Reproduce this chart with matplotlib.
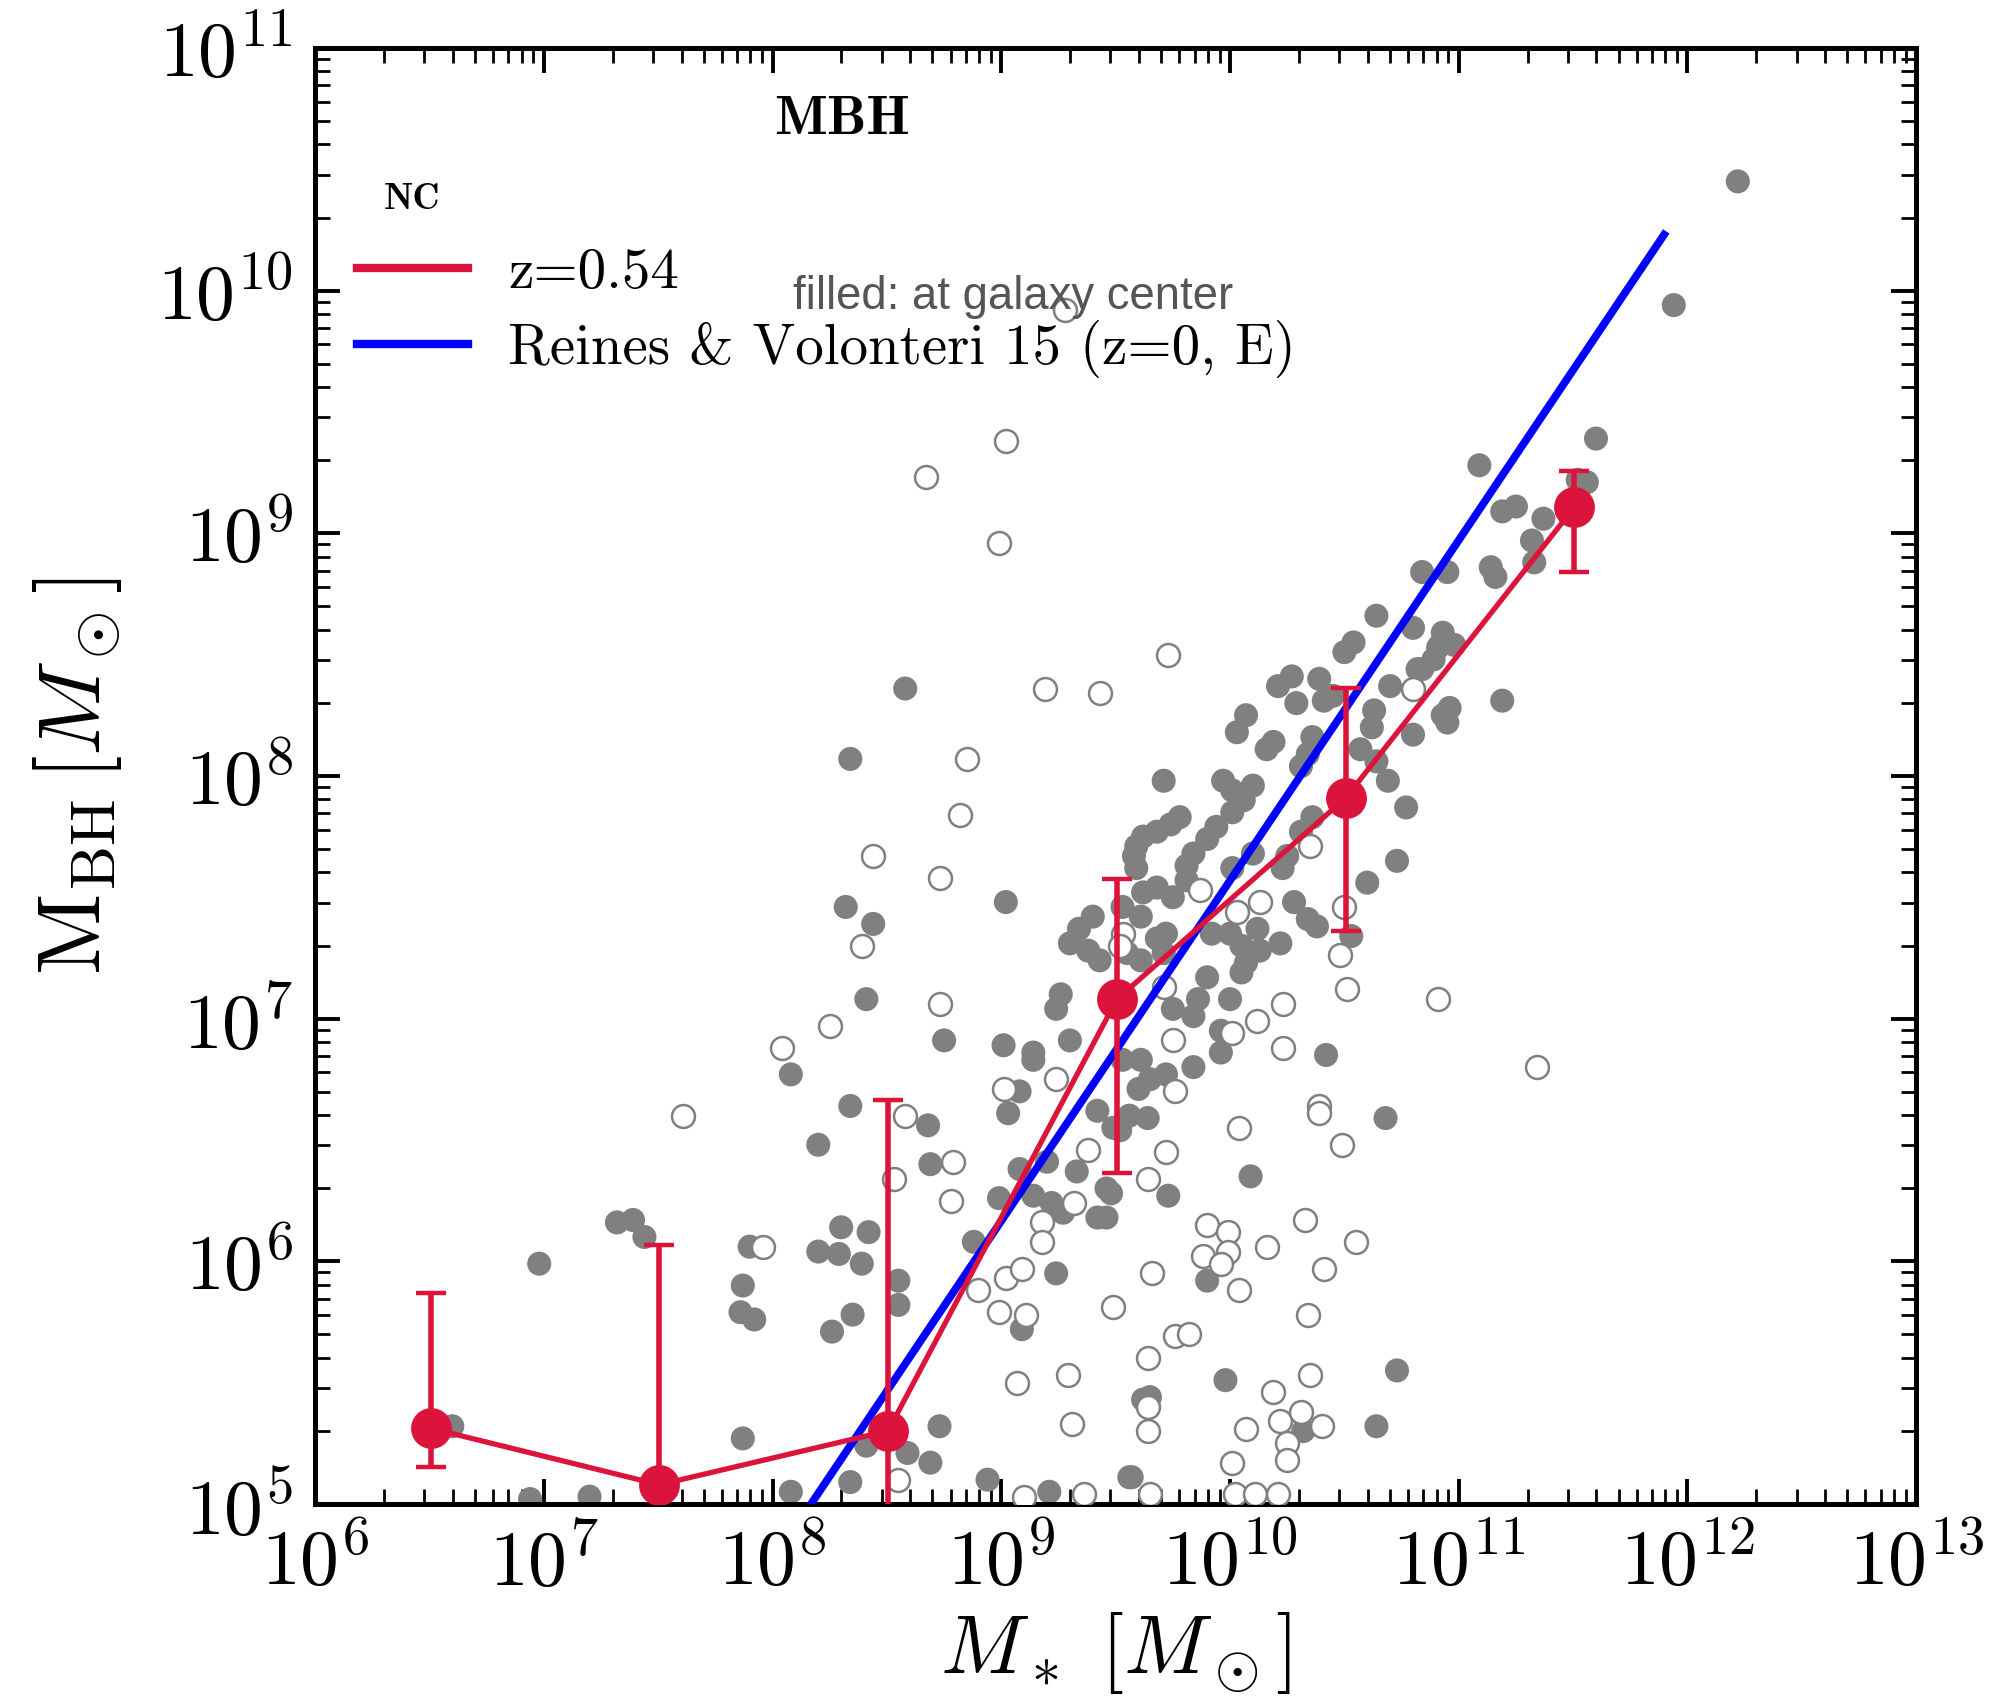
import matplotlib
matplotlib.use('Agg')
import matplotlib.pyplot as plt
from matplotlib.lines import Line2D
from matplotlib.ticker import LogLocator
import numpy as np

plt.rcParams['font.family'] = 'serif'
plt.rcParams['font.serif'] = ['cmr10']
plt.rcParams['mathtext.fontset'] = 'cm'
plt.rcParams['axes.formatter.use_mathtext'] = True
plt.rcParams['axes.unicode_minus'] = False

# MBH binned median (red), in Msun
red_mstar = [3.2e6, 3.2e7, 3.2e8, 3.2e9, 3.2e10, 3.2e11]
red_mbh = [2.05e5, 1.2e5, 2.0e5, 1.2e7, 8.1e7, 1.28e9]
red_hi = [7.4e5, 1.17e6, 4.6e6, 3.75e7, 2.3e8, 1.8e9]
red_lo = [1.42e5, 1e3, 1e3, 2.3e6, 2.3e7, 6.9e8]

# Reines & Volonteri 15 (ellipticals) end points
rv15_mstar = [1.0e8, 7.9e11]
rv15_mbh = [5.8e4, 1.7e10]

# individual BHs, log10(M*), log10(MBH)
filled = [
    (12.22, 10.45), (11.94, 9.94), (11.60, 9.39), (11.09, 9.28), (11.52, 9.22), (11.56, 9.21),
    (11.19, 9.09), (11.25, 9.11), (11.37, 9.06), (11.32, 8.97), (11.33, 8.88), (10.84, 8.84),
    (10.95, 8.84), (11.14, 8.86), (11.16, 8.82), (10.80, 8.61), (10.93, 8.59), (10.98, 8.54),
    (10.91, 8.53), (10.84, 8.44), (11.19, 8.31), (10.96, 8.28), (10.95, 8.22), (10.80, 8.17),
    (10.77, 7.87), (10.50, 8.51), (10.92, 8.54), (10.21, 8.37), (10.27, 8.41), (10.29, 8.30),
    (10.39, 8.40), (10.41, 8.31), (10.45, 8.33), (10.70, 8.37), (10.82, 8.44), (10.89, 8.48),
    (10.63, 8.27), (10.62, 8.20), (10.93, 8.25), (10.07, 8.25), (10.03, 8.18), (10.19, 8.14),
    (10.16, 8.11), (10.36, 8.16), (10.34, 8.09), (10.31, 8.04), (10.57, 8.11), (10.64, 8.06),
    (10.69, 7.98), (9.71, 7.98), (9.97, 7.98), (10.01, 7.94), (10.10, 7.96), (10.06, 7.90),
    (10.01, 7.85), (9.78, 7.83), (9.74, 7.80), (9.68, 7.77), (9.62, 7.75), (9.59, 7.71),
    (9.58, 7.67), (9.59, 7.62), (9.94, 7.79), (9.90, 7.74), (9.84, 7.68), (9.81, 7.63),
    (10.01, 7.62), (10.10, 7.68), (10.36, 7.83), (10.31, 7.77), (10.25, 7.67), (10.23, 7.62),
    (10.73, 7.65), (10.60, 7.56), (9.81, 7.57), (9.75, 7.50), (9.68, 7.54), (9.62, 7.52),
    (9.61, 7.42), (9.02, 7.48), (9.40, 7.42), (9.34, 7.37), (9.30, 7.31), (9.38, 7.28),
    (9.43, 7.24), (9.53, 7.46), (9.55, 7.27), (9.61, 7.24), (10.28, 7.48), (10.34, 7.41),
    (10.38, 7.38), (9.92, 7.35), (10.00, 7.35), (10.05, 7.30), (10.12, 7.37), (10.13, 7.28),
    (10.22, 7.31), (9.72, 7.35), (9.68, 7.33), (9.71, 7.27), (10.53, 7.34), (10.07, 7.23),
    (10.05, 7.19), (9.90, 7.17), (9.86, 7.08), (9.75, 7.04), (9.84, 7.01), (9.96, 6.95),
    (10.00, 7.08), (9.26, 7.10), (9.24, 7.04), (9.30, 6.91), (9.14, 6.86), (9.01, 6.89),
    (10.42, 6.85), (9.96, 6.86), (8.08, 6.77), (8.34, 6.64), (8.20, 6.48), (8.68, 6.56),
    (8.69, 6.40), (9.08, 6.70), (9.03, 6.61), (9.14, 6.83), (9.53, 6.83), (9.42, 6.62),
    (9.49, 6.55), (9.56, 6.60), (9.08, 6.38), (9.20, 6.41), (8.99, 6.26), (9.14, 6.27),
    (9.22, 6.24), (9.27, 6.20), (9.33, 6.37), (9.46, 6.30), (9.42, 6.18), (8.88, 6.08),
    (9.24, 5.95), (7.90, 6.06), (7.87, 5.90), (7.86, 5.79), (7.92, 5.76), (8.30, 6.14),
    (8.42, 6.12), (8.20, 6.04), (8.29, 6.03), (8.39, 5.99), (8.55, 5.92), (8.55, 5.82),
    (8.35, 5.78), (8.26, 5.71), (9.09, 5.72), (7.87, 5.27), (8.73, 5.32), (8.41, 5.24),
    (8.59, 5.21), (8.69, 5.17), (8.94, 5.10), (9.56, 5.11), (9.62, 5.43), (8.08, 5.05),
    (9.84, 6.80), (9.61, 6.83), (9.65, 6.75), (9.72, 6.77), (9.60, 6.71), (9.64, 6.59),
    (9.52, 6.54), (10.68, 6.59), (10.09, 6.35), (9.73, 6.27), (9.48, 6.28), (9.46, 6.18),
    (9.90, 5.92), (9.98, 5.51), (9.65, 5.44), (10.73, 5.55), (10.64, 5.32), (10.32, 5.30),
    (9.57, 5.11), (8.58, 8.36), (8.34, 8.07), (8.32, 7.46), (8.44, 7.39), (8.41, 7.08),
    (8.75, 6.91), (6.60, 5.32), (6.98, 5.99), (7.32, 6.16), (7.39, 6.17), (7.44, 6.10),
    (7.20, 5.03), (6.94, 5.02), (8.34, 5.09), (9.21, 5.05), (10.64, 8.66), (10.54, 8.55),
]

hollow = [
    (9.02, 9.38), (8.67, 9.23), (8.99, 8.96), (9.73, 8.50), (9.19, 8.36), (9.43, 8.34),
    (8.85, 8.07), (8.82, 7.84), (8.44, 7.67), (8.73, 7.58), (8.39, 7.30), (8.73, 7.06),
    (8.25, 6.97), (8.04, 6.88), (7.61, 6.60), (8.58, 6.60), (8.53, 6.34), (8.79, 6.41),
    (8.78, 6.25), (9.01, 6.71), (9.24, 6.75), (9.38, 6.46), (9.32, 6.24), (9.64, 6.34),
    (7.96, 6.06), (9.18, 6.16), (9.18, 6.08), (8.90, 5.88), (9.02, 5.93), (9.09, 5.97),
    (8.99, 5.79), (9.11, 5.78), (9.49, 5.81), (9.07, 5.50), (9.29, 5.53), (9.31, 5.33),
    (9.64, 5.60), (9.64, 5.30), (9.66, 5.95), (8.55, 5.10), (9.10, 5.03), (9.36, 5.04),
    (10.35, 7.71), (9.87, 7.53), (10.13, 7.48), (10.03, 7.44), (10.50, 7.46), (10.48, 7.26),
    (10.51, 7.12), (10.91, 7.08), (10.23, 7.06), (10.12, 6.99), (10.23, 6.88), (10.01, 6.94),
    (9.75, 6.91), (9.53, 7.35), (9.52, 7.30), (9.71, 7.13), (11.34, 6.80), (9.76, 6.70),
    (10.39, 6.64), (10.39, 6.61), (10.04, 6.55), (10.49, 6.48), (9.72, 6.45), (9.90, 6.15),
    (9.99, 6.12), (9.99, 6.04), (9.88, 6.02), (9.96, 5.99), (10.16, 6.06), (10.33, 6.17),
    (10.55, 6.08), (10.41, 5.97), (10.04, 5.88), (10.34, 5.78), (9.76, 5.69), (9.82, 5.70),
    (10.35, 5.53), (10.19, 5.46), (9.64, 5.40), (10.07, 5.31), (10.22, 5.34), (10.31, 5.38),
    (10.40, 5.32), (10.25, 5.25), (10.25, 5.18), (10.01, 5.17), (9.65, 5.04), (10.02, 5.04),
    (10.11, 5.04), (10.21, 5.04), (10.80, 8.36), (9.28, 9.92),
]

filled = np.array(filled)
hollow = np.array(hollow)
red_mbh = np.array(red_mbh)

fig = plt.figure(figsize=(9.995, 8.49), dpi=200)
ax = fig.add_axes([0.1576, 0.1143, 0.801, 0.8575])
ax.set_xscale('log')
ax.set_yscale('log')

ax.scatter(10**filled[:, 0], 10**filled[:, 1], s=75, c='gray', edgecolors='none', zorder=2)
ax.scatter(10**hollow[:, 0], 10**hollow[:, 1], s=68, facecolors='white',
           edgecolors='gray', linewidths=0.9, zorder=3)

ax.plot(rv15_mstar, rv15_mbh, color='blue', lw=2.8, zorder=4)
ax.errorbar(red_mstar, red_mbh, yerr=[red_mbh - np.array(red_lo), np.array(red_hi) - red_mbh],
            color='crimson', lw=1.9, elinewidth=2.0, capsize=5.5, capthick=1.6,
            marker='o', ms=13.7, zorder=5)

ax.set_xlim(1e6, 1e13)
ax.set_ylim(1e5, 1e11)

# every decade labelled, minor ticks 2..9 on both axes
for axis in (ax.xaxis, ax.yaxis):
    axis.set_major_locator(LogLocator(base=10, numticks=20))
    axis.set_minor_locator(LogLocator(base=10, subs=np.arange(2, 10), numticks=20))

# ticks and frame
ax.tick_params(which='both', direction='in', top=True, right=True)
ax.tick_params(which='major', length=9, width=1.4, labelsize=28, pad=8)
ax.tick_params(which='minor', length=5.5, width=1.0)
for sp in ax.spines.values():
    sp.set_linewidth(1.8)

ax.set_xlabel(r'$M_*\ [M_\odot]$', fontsize=30, labelpad=3)
ax.set_ylabel(r'$\mathrm{M_{BH}}\,[M_\odot]$', fontsize=32, labelpad=12)

# legend
handles = [Line2D([], [], color='crimson', lw=3.0), Line2D([], [], color='blue', lw=3.0)]
ax.legend(handles, ['z=0.54', 'Reines & Volonteri 15 (z=0, E)'], loc='upper left',
          bbox_to_anchor=(0.0263, 0.8625), frameon=False, borderpad=0, borderaxespad=0,
          prop=dict(family='cmr10', size=20.5), handlelength=1.95, handletextpad=0.7,
          labelspacing=0.37)

ax.text(0.329, 0.95, 'MBH', transform=ax.transAxes, family='cmb10', fontsize=20,
        ha='center', va='center')
ax.text(0.0605, 0.8958, 'NC', transform=ax.transAxes, family='cmb10', fontsize=13.5,
        ha='center', va='center')
ax.text(0.2986, 0.8205, 'filled: at galaxy center', transform=ax.transAxes,
        family='Liberation Sans', fontsize=16.4, color='#555555', va='baseline', ha='left')

fig.savefig('out.png', dpi=200)
